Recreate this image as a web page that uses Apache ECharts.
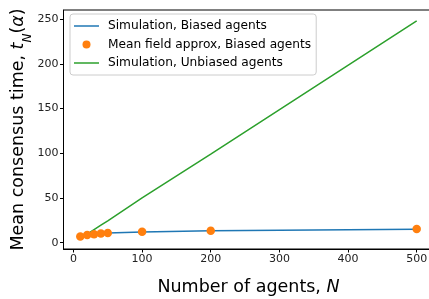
<!DOCTYPE html>
<html><head><meta charset="utf-8">
<script src="https://cdn.jsdelivr.net/npm/echarts@6/dist/echarts.min.js"></script>
<style>html,body{margin:0;padding:0;background:#fff;overflow:hidden}#c{width:429px;height:299px}</style>
</head><body><div id="c"></div>
<script>
const agentsN = [10, 20, 30, 40, 50, 100, 200, 500];
const simBiased = [7.2, 8.5, 9.5, 10.2, 10.7, 12.0, 13.2, 15.0];
const meanFieldBiased = [7.0, 8.5, 9.5, 10.3, 10.8, 12.2, 13.3, 15.2];
const simUnbiased = [5.5, 9.5, 14.5, 19.5, 24.5, 50, 99, 248];
const xTicks = [0, 100, 200, 300, 400, 500];
const yTicks = [0, 50, 100, 150, 200, 250];
const names = ['Simulation, Biased agents', 'Mean field approx, Biased agents', 'Simulation, Unbiased agents'];

const pairs = (xs, ys) => xs.map((x, i) => [x, ys[i]]);
const font = 'DejaVu Sans';
const lineIcon = 'path://M0,0 L25,0 L25,1.5 L0,1.5 Z';
const chart = echarts.init(document.getElementById('c'), null, {renderer: 'canvas'});
chart.setOption({
  animation: false,
  grid: {left: 63.5, width: 370, top: 10, bottom: 50, show: true, borderColor: '#000', borderWidth: 1, containLabel: false, outerBoundsMode: 'none'},
  xAxis: {
    type: 'value', min: -14.5, max: 524.5,
    name: 'Number of agents, {i|N}', nameLocation: 'middle', nameGap: 29, nameMoveOverlap: false,
    nameTextStyle: {fontFamily: font, fontSize: 17.5, color: '#000', rich: {i: {fontFamily: font, fontSize: 17.5, fontStyle: 'italic', color: '#000'}}},
    axisLine: {show: true, onZero: false, lineStyle: {color: '#000', width: 1}}, splitLine: {show: false},
    axisTick: {show: true, length: 3.5, inside: false, customValues: xTicks, lineStyle: {color: '#000'}},
    axisLabel: {customValues: xTicks, fontFamily: font, fontSize: 11, color: '#222', margin: 5}
  },
  yAxis: {
    type: 'value', min: -7.1, max: 260.3,
    name: 'Mean consensus time, {i|t}{s|N}{n|(}{i|α}{n|)}', nameLocation: 'middle', nameGap: 36, nameMoveOverlap: false,
    nameTextStyle: {fontFamily: font, fontSize: 17.5, color: '#000', rich: {
      i: {fontFamily: font, fontSize: 17.5, fontStyle: 'italic', color: '#000'},
      n: {fontFamily: font, fontSize: 17.5, color: '#000'},
      s: {fontFamily: font, fontSize: 12, fontStyle: 'italic', color: '#000', verticalAlign: 'bottom', padding: [0,0,-6,0]}
    }},
    axisLine: {show: true, onZero: false, lineStyle: {color: '#000', width: 1}}, splitLine: {show: false},
    axisTick: {show: true, length: 3.5, inside: false, customValues: yTicks, lineStyle: {color: '#000'}},
    axisLabel: {customValues: yTicks, fontFamily: font, fontSize: 11, color: '#222', margin: 5}
  },
  legend: {
    orient: 'vertical', left: 70, top: 14, itemWidth: 25, itemHeight: 8, itemGap: 6.5,
    padding: [6, 5, 6, 4], backgroundColor: 'rgba(255,255,255,0.8)', borderColor: '#ccc', borderWidth: 1, borderRadius: 3,
    textStyle: {fontFamily: font, fontSize: 12.2, color: '#000', padding: [0, 0, 0, 4]},
    data: [
      {name: names[0], icon: lineIcon, itemStyle: {color: '#1f77b4'}},
      {name: names[1], icon: 'circle'},
      {name: names[2], icon: lineIcon, itemStyle: {color: '#2ca02c'}}
    ]
  },
  series: [
    {name: names[0], type: 'line', data: pairs(agentsN, simBiased), symbol: 'none', lineStyle: {color: '#1f77b4', width: 1.5}, itemStyle: {color: '#1f77b4'}, z: 2},
    {name: names[1], type: 'scatter', data: pairs(agentsN, meanFieldBiased), symbol: 'circle', symbolSize: 8.5, itemStyle: {color: '#ff7f0e', opacity: 1}, z: 4},
    {name: names[2], type: 'line', data: pairs(agentsN, simUnbiased), symbol: 'none', lineStyle: {color: '#2ca02c', width: 1.5}, itemStyle: {color: '#2ca02c'}, z: 3}
  ]
});
</script></body></html>
